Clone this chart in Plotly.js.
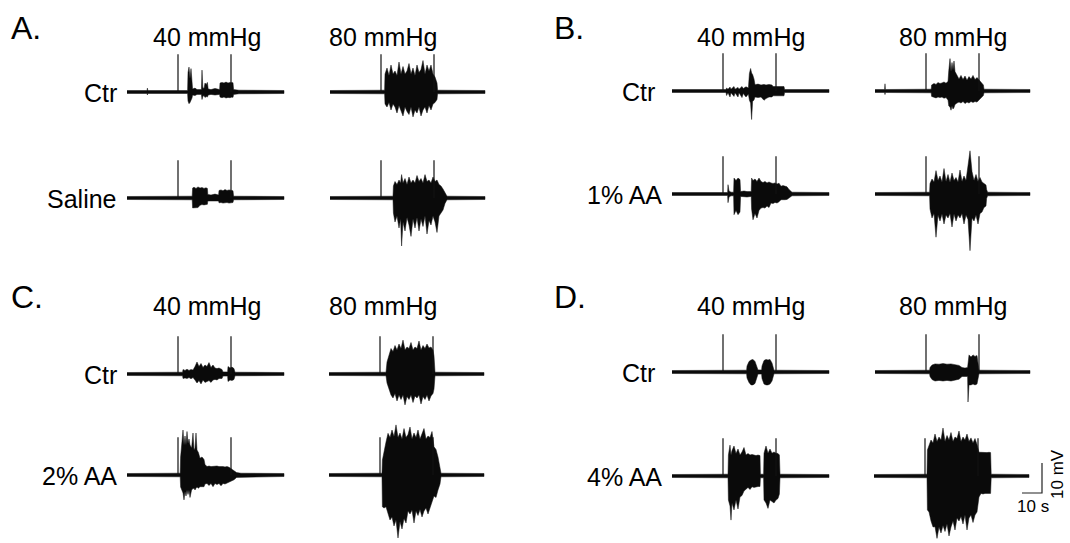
<!DOCTYPE html>
<html><head><meta charset="utf-8">
<script src="https://cdn.plot.ly/plotly-3.0.1.min.js"></script>
<style>html,body{margin:0;padding:0;background:#fff}#chart{width:1070px;height:543px}</style>
</head><body><div id="chart"></div>
<script>
// ---- DATA: each row = [time (s), upper envelope (mV), lower envelope (mV)] ----
const A_ctr_40 = [[0,0.5,-0.5],[10,0.5,-0.5],[10.2,1.3,-1],[10.4,0.5,-0.5],[30.3,0.5,-0.5],[30.5,6.5,-3],[31,8.3,-3.9],[31.5,4.5,-3.5],[32,7.8,-3.2],[32.5,3,-2],[32.8,1,-1],[34,1.3,-1.2],[35,0.8,-0.8],[37.2,0.8,-0.8],[37.5,7.3,-2.5],[37.9,1.5,-1.5],[38.5,1.2,-1.2],[39,3,-1.8],[39.6,2.5,-1.5],[40.2,3.2,-1.7],[40.6,1,-1],[42,0.8,-0.8],[44,1.2,-1],[46.3,0.8,-0.8],[46.5,3,-1.7],[47.5,3.2,-1.9],[48.5,3,-1.7],[49.5,3.3,-2],[50.5,3,-1.8],[51.5,3.2,-1.9],[52.5,3,-1.7],[53,3.1,-1.8],[53.3,0.8,-0.8],[56,0.6,-0.6],[78.5,0.5,-0.5]];
const A_ctr_80 = [[0,0.5,-0.5],[27.3,0.6,-0.6],[27.5,6,-4],[28.5,8,-5],[29.5,5.5,-3.5],[30.5,9,-6],[31.5,6,-4],[32.5,7,-5],[33.5,5.5,-7],[34.5,10,-4.5],[35.5,6,-6],[36.5,8.5,-8],[37.5,6,-5],[38.5,7,-6.5],[39.5,9.5,-7.5],[40.5,6,-5],[41.5,8,-8.3],[42.5,5.5,-6],[43.5,9,-7],[44.5,6.5,-5],[45.5,7.5,-8],[46.5,10.5,-6],[47.5,6,-5],[48.5,9,-7],[49.5,7,-4.5],[50.5,9,-6],[51.5,6,-4],[52.5,5,-3.5],[53.5,3,-2.5],[53.8,0.6,-0.6],[77.5,0.5,-0.5]];
const A_sal_40 = [[0,0.5,-0.5],[32.6,0.6,-0.6],[32.8,3.3,-3.3],[33.5,3.6,-3.4],[34.5,3.2,-3.3],[35.5,3.7,-3.2],[36.5,3.3,-2.4],[37.5,3.5,-2.2],[38.5,3.2,-2.3],[39.5,3.4,-2.2],[40.2,3.2,-2.1],[40.4,1.2,-1],[42,1,-1.2],[44,1.3,-1],[45.8,1,-1],[46,2.5,-1.6],[47,2.7,-1.5],[48,2.4,-1.7],[49,2.8,-1.6],[50,2.5,-1.5],[51,2.7,-1.7],[52,2.5,-1.6],[53,2.4,-1.5],[53.3,0.6,-0.6],[78.5,0.5,-0.5]];
const A_sal_80 = [[0,0.5,-0.5],[31.5,0.6,-0.6],[31.7,4,-5],[32.5,5.5,-8],[33.5,4.5,-6],[34.5,6,-10],[35.3,5,-7],[35.8,7.8,-16],[36.5,5,-8],[37.5,6.5,-11],[38.5,4.5,-6.5],[39.5,7,-9],[40.5,5,-12.8],[41.5,6,-7],[42.5,5,-10],[43.5,7.5,-6.5],[44.5,5.5,-11],[45.5,6.5,-7],[46.5,5,-9.5],[47.5,7.8,-6],[48.5,5.5,-12],[49.5,6,-7.5],[50.5,5,-9],[51.5,7,-6],[52.5,5.5,-8],[53.5,6,-11.5],[54.5,4.5,-6],[55.5,4,-5],[56.5,3,-4],[57.5,1.5,-1.8],[58.5,0.6,-0.6],[77.5,0.5,-0.5]];
const B_ctr_40 = [[0,0.5,-0.5],[27,0.5,-0.5],[27.3,1,-1.5],[28,0.6,-0.6],[29,1.3,-2],[29.5,0.6,-0.6],[31,1.5,-1.8],[31.5,0.6,-0.6],[33,1.2,-2],[33.5,0.6,-0.6],[35,1.5,-2.2],[35.6,0.8,-0.8],[37,1.4,-2],[38.2,1,-1],[38.7,5.8,-3.1],[39.3,7.5,-4],[39.8,6,-9.5],[40.3,5.5,-3.5],[41,4,-3],[41.5,2.1,-2],[43,2.3,-2.2],[44.5,2,-2],[46,2.2,-3.1],[47,2,-2.5],[48.5,2.2,-2],[50,2,-2],[50.5,1.5,-1.6],[52,1.6,-1.7],[54,1.5,-1.6],[56,1.5,-1.6],[56.3,0.5,-0.5],[78.5,0.5,-0.5]];
const B_ctr_80 = [[0,0.5,-0.5],[4.8,0.5,-0.5],[5,2.4,-1.2],[5.2,0.5,-0.5],[28.1,0.6,-0.6],[28.3,2,-1.8],[29.5,2.5,-2],[30.5,2.2,-2.3],[31.5,2.8,-2],[32.5,2.5,-2.2],[33.5,2.7,-2],[34.5,3,-2.4],[35.5,2.6,-2.2],[36.5,3.2,-3],[36.9,6.9,-5],[37.5,10.8,-5.3],[38,6.5,-6.4],[38.5,9.5,-5],[39,7,-6],[39.5,10,-5.5],[40,6.5,-4.5],[41,5,-4],[42,4,-3.7],[43,5.2,-4],[44,3.8,-3.5],[45,5,-4.2],[46,3.6,-3.7],[47,4.8,-4],[48,4,-3.5],[49,5.2,-3.8],[50,3.8,-3.5],[51,4.5,-3.7],[52,3.6,-3],[53,3,-2.5],[54.2,2,-1.5],[54.5,0.6,-0.6],[77.5,0.5,-0.5]];
const B_aa1_40 = [[0,0.5,-0.5],[27.8,0.5,-0.5],[28,3.1,-2.9],[28.5,1,-1],[29.5,0.6,-0.6],[30.8,0.6,-0.6],[31,5.3,-6.9],[32,4.5,-5.5],[33,5.3,-6.9],[34,4.8,-6],[34.3,0.8,-0.8],[36,1,-1],[37.5,0.8,-1],[39.6,0.8,-0.8],[39.8,5.3,-5],[40.5,4.5,-8.6],[41.5,5,-6.5],[42.5,4.2,-8],[43.5,5.3,-5.5],[44.5,4.2,-4.7],[45.5,3.8,-4.5],[46.5,4.2,-4.7],[47.5,3.7,-4],[48.5,4,-4.5],[49.5,3.7,-3],[50.5,3.5,-3.2],[51.5,3.7,-2.8],[52.5,3.3,-3],[53.5,3.6,-2.6],[54.5,2.6,-1.9],[55.5,2.8,-2],[56.5,2.6,-1.9],[57.5,2.4,-1.8],[58.5,1.5,-1.2],[60,0.6,-0.6],[78.5,0.5,-0.5]];
const B_aa1_80 = [[0,0.5,-0.5],[27.3,0.6,-0.6],[27.5,3.5,-5],[28.5,5,-8],[29.5,4,-6.5],[30.5,7.8,-14.4],[31.5,4.5,-7],[32.5,6,-9],[33.5,4,-6.7],[34.5,8.5,-10],[35.5,4.2,-7],[36.5,6.5,-8],[37.5,3.9,-6.5],[38.5,7,-11],[39.5,4.5,-6.7],[40.5,5.5,-9],[41.5,4,-7],[42.5,8,-8],[43.5,4.2,-6.5],[44.5,6,-10],[45.5,4.5,-7],[46.5,10,-8.5],[47.5,14.4,-18.9],[48.5,7.5,-8],[49.5,4.5,-9],[50.5,6.5,-7],[51.5,4.2,-10],[52.5,5.5,-6.5],[53.5,4,-6],[54.5,3.5,-4.5],[55.5,3,-4],[55.8,1.5,-1.5],[56.3,0.6,-0.6],[77.5,0.5,-0.5]];
const C_ctr_40 = [[0,0.5,-0.5],[27.8,0.6,-0.6],[28,1.5,-1.5],[29,1.2,-1.3],[30,1.6,-1.5],[31,1.2,-1.2],[32,1.5,-1.6],[33,1.3,-1.2],[34,2.5,-2],[35,4,-3],[36,2.5,-2.2],[37,3.5,-3.3],[38,2.2,-2],[39,3,-2.8],[40,2.5,-2.5],[41,3.8,-2.2],[42,2.2,-2.8],[43,3,-2],[44,2,-1.8],[45,1.8,-2],[46,2,-1.5],[47.5,1.5,-1.5],[48,0.7,-0.7],[50.3,0.7,-0.7],[50.5,2.5,-2.5],[51.5,2,-2],[52.5,2.3,-2.2],[53.5,1.8,-1.8],[54,0.6,-0.6],[78.5,0.5,-0.5]];
const C_ctr_80 = [[0,0.5,-0.5],[28.5,0.6,-0.6],[29,4,-3],[30,6.5,-5],[31,8.5,-7],[32,7.5,-8],[33,9.5,-6.5],[34,8,-9],[35,10,-7],[36,8.5,-8.5],[37,11.3,-7],[38,8,-10.3],[39,9,-7.5],[40,8.5,-8.5],[41,10.5,-7],[42,8,-9.5],[43,9,-7.3],[44,8.5,-8],[45,11,-7],[46,8,-10],[47,9.5,-7.5],[48,8.5,-8.5],[49,10,-7],[50,8.7,-9],[51,9,-7.3],[52,8,-6.5],[52.5,6,-5],[53,0.6,-0.6],[77.5,0.5,-0.5]];
const C_aa2_40 = [[0,0.5,-0.5],[26.6,0.6,-0.6],[26.8,6,-4],[27.5,10,-5],[28,15,-6],[28.5,10,-8.3],[29,13,-5.5],[29.5,10,-7],[30,14.5,-5],[30.5,10.5,-6.5],[31,12,-5],[31.5,10,-7.5],[32.3,9,-5],[33,14,-4.5],[33.5,8.3,-4.4],[34,9,-5],[34.5,14,-4.4],[35,8.3,-4],[35.7,7.5,-4.4],[36.5,5.6,-3.9],[37.5,6,-4],[38.5,5.2,-3.9],[39,3.5,-3],[40,2.8,-2.8],[41,3,-3.5],[42,2.8,-2.8],[43,2.9,-3.9],[44,2.8,-2.8],[45,3,-3.2],[46,2.8,-2.8],[47,2.9,-3.6],[48,2.8,-2.8],[49,2.7,-3],[50,2.8,-2.8],[51,2.6,-2.6],[51.5,2.4,-2.4],[52.5,1.9,-1.9],[53.5,1.6,-1.6],[54.8,0.8,-0.8],[57,0.6,-0.6],[78.5,0.5,-0.5]];
const C_aa2_80 = [[0,0.5,-0.5],[26.5,0.6,-0.6],[26.7,5,-10.6],[27.5,8,-11],[28.5,11,-10.6],[29.5,13.9,-13],[30.5,12.5,-15],[31.5,15,-14],[32.5,12.8,-17],[33.5,16.7,-15],[34.5,12.5,-21],[35.5,14,-15.5],[36.5,12,-18],[37.5,15.5,-14.5],[38.5,12.5,-16],[39.5,13.5,-12],[40.5,16,-13],[41.5,12,-11.7],[42.5,14,-16],[43.5,12.5,-12],[44.5,15,-13.5],[45.5,12,-11.5],[46.5,13.5,-14],[47.5,15.5,-12],[48.5,12,-11],[49.5,13,-13],[50.5,12.5,-10.5],[51.5,14.5,-9],[52.5,9.4,-7],[53.5,8.5,-7.5],[54.5,6,-5],[55.5,3,-3],[56,0.6,-0.6],[77.5,0.5,-0.5]];
const D_ctr_40 = [[0,0.5,-0.5],[37.3,0.6,-0.6],[37.5,2,-2],[38.5,3.5,-3.5],[39.5,4,-4.3],[40.5,4.2,-4.3],[41.5,3.5,-3.8],[42.5,2,-2],[43,0.7,-0.7],[44.8,0.7,-0.7],[45,2,-2.2],[46,3.8,-4],[47,4.2,-4.3],[48,4,-4.3],[49,4.2,-4],[50,3,-3],[50.5,1.5,-1.5],[51,0.6,-0.6],[78.5,0.5,-0.5]];
const D_ctr_80 = [[0,0.5,-0.5],[27.3,0.6,-0.6],[27.5,1.5,-1.5],[28.5,2.3,-2.5],[30,2.7,-3],[32,2.6,-2.8],[34,2.8,-3],[36,2.6,-2.8],[38,2.7,-3],[40,2.5,-2.8],[42,2.2,-2.4],[43.5,1.5,-1.5],[45,1.3,-1.5],[46.3,1.5,-1.5],[46.5,4,-10],[47,5.7,-4.3],[48,5,-4.3],[49,5.7,-4],[50,5.2,-4.3],[51,5.5,-4],[51.5,3,-2],[52,0.6,-0.6],[77.5,0.5,-0.5]];
const D_aa4_40 = [[0,0.5,-0.5],[28,0.6,-0.6],[28.2,7,-8],[29,10.3,-10],[29.5,7,-14.7],[30,8.5,-9],[31,10,-11.3],[32,7.5,-8],[33,9,-11],[34,7,-7],[35,8,-6.5],[36,9.5,-5],[37,7,-4.5],[38,7.5,-3.8],[39,7,-4.5],[40,7.2,-3.6],[41,7,-3.8],[42,6.8,-3.6],[43,7,-3.5],[44,6.8,-3.5],[44.2,0.6,-0.6],[45.8,0.6,-0.6],[46,7.6,-8],[47,10,-9],[48,7.6,-10.8],[49,9,-8],[50,7.6,-8.5],[51,8,-9],[52,7.6,-8],[53,7.5,-7.5],[53.7,7,-6],[54,0.6,-0.6],[78.5,0.5,-0.5]];
const D_aa4_80 = [[0,0.5,-0.5],[26.5,0.6,-0.6],[26.7,8.7,-11.3],[27.5,10,-12],[28.5,12,-15],[29.5,11,-17],[30.5,14,-16.9],[31.5,11.5,-20.8],[32.5,13,-17],[33.5,12,-19],[34.5,16,-16.5],[35.5,11.5,-18.5],[36.5,13.5,-16],[37.5,12,-20],[38.5,14.5,-17],[39.5,11.5,-15],[40.5,13,-18],[41.5,12.5,-14],[42.5,15,-15],[43.5,11.5,-13.5],[44.5,13,-16],[45.5,12,-13],[46.5,14,-18],[47.5,11.5,-14],[48.5,12.7,-13],[49.5,11,-15.5],[50.5,12.5,-13],[51.5,10.5,-12],[52.5,7.9,-7],[53.5,7.9,-5.8],[54.5,7.8,-6],[55.5,7.9,-5.8],[56.5,7.8,-5.8],[57.5,7.9,-5.9],[58.3,7.8,-5.8],[58.6,0.6,-0.6],[77.5,0.5,-0.5]];

const stimTimes = [25.5, 52];     // s, pressure-step markers
const stimHeight = 12.6;          // mV
const scaleBarSeconds = 10;
const scaleBarMV = 10;
const pressureLabels = ["40 mmHg", "80 mmHg"];
const panelLetters = ["A.", "B.", "C.", "D."];
const rowLabels = [["Ctr", "Saline"], ["Ctr", "1% AA"], ["Ctr", "2% AA"], ["Ctr", "4% AA"]];

// ---- LAYOUT (pixel placement of each recording) ----
const W = 1070, H = 543, PX_PER_S = 2, PX_PER_MV = 3;
const recs = [
  {d:A_ctr_40, x0:127, b:92}, {d:A_ctr_80, x0:330, b:92},
  {d:A_sal_40, x0:127, b:198}, {d:A_sal_80, x0:330, b:198},
  {d:B_ctr_40, x0:672, b:91}, {d:B_ctr_80, x0:875, b:91},
  {d:B_aa1_40, x0:672, b:194}, {d:B_aa1_80, x0:875, b:194},
  {d:C_ctr_40, x0:127, b:374}, {d:C_ctr_80, x0:329, b:374},
  {d:C_aa2_40, x0:127, b:475}, {d:C_aa2_80, x0:329, b:475},
  {d:D_ctr_40, x0:672, b:372}, {d:D_ctr_80, x0:875, b:372},
  {d:D_aa4_40, x0:672, b:476}, {d:D_aa4_80, x0:874, b:476}
];
const panelPos = [{x:9, y:28, lx40:207, lx80:383, rl:119}, {x:552, y:28, lx40:751, lx80:953, rl:662},
                  {x:9, y:297, lx40:207, lx80:383, rl:119}, {x:552, y:297, lx40:751, lx80:953, rl:662}];

const data = [], layout = {
  width: W, height: H, margin: {l:0, r:0, t:0, b:0},
  paper_bgcolor: '#fff', plot_bgcolor: 'rgba(0,0,0,0)', showlegend: false, annotations: []
};
recs.forEach((r, i) => {
  const n = i + 1, sfx = n === 1 ? '' : String(n);
  const left = r.x0 - 6, right = Math.min(r.x0 + 176, W);
  const top = r.b - 62, bottom = Math.min(r.b + 72, H);
  layout['xaxis' + sfx] = {domain: [left / W, right / W], range: [-6 / PX_PER_S, (right - r.x0) / PX_PER_S],
    visible: false, fixedrange: true, anchor: 'y' + sfx};
  layout['yaxis' + sfx] = {domain: [1 - bottom / H, 1 - top / H], range: [-(bottom - r.b) / PX_PER_MV, (r.b - top) / PX_PER_MV],
    visible: false, fixedrange: true, anchor: 'x' + sfx};
  const t = r.d.map(p => p[0]), up = r.d.map(p => p[1]), lo = r.d.map(p => p[2]);
  data.push({type: 'scatter', mode: 'lines', x: t.concat(t.slice().reverse()), y: up.concat(lo.slice().reverse()),
    fill: 'toself', fillcolor: '#0a0a0a', line: {color: '#111', width: 0.5}, hoverinfo: 'skip',
    xaxis: 'x' + sfx, yaxis: 'y' + sfx});
  const sx = [], sy = [];
  stimTimes.forEach(s => { sx.push(s, s, null); sy.push(0, stimHeight, null); });
  data.push({type: 'scatter', mode: 'lines', x: sx, y: sy, line: {color: '#111', width: 1.2}, hoverinfo: 'skip',
    xaxis: 'x' + sfx, yaxis: 'y' + sfx});
  if (i === recs.length - 1) {
    const t0 = (1022 - r.x0) / PX_PER_S, v0 = (r.b - 493) / PX_PER_MV;
    data.push({type: 'scatter', mode: 'lines', x: [t0, t0 + scaleBarSeconds, t0 + scaleBarSeconds],
      y: [v0, v0, v0 + scaleBarMV], line: {color: '#222', width: 1.2}, hoverinfo: 'skip',
      xaxis: 'x' + sfx, yaxis: 'y' + sfx});
  }
});

const FONT = 'Liberation Sans, Arial, sans-serif';
function ann(text, px, py, size, xanchor, angle) {
  layout.annotations.push({text, x: px / W, y: 1 - py / H, xref: 'paper', yref: 'paper', showarrow: false,
    xanchor: xanchor || 'center', yanchor: 'middle', textangle: angle || 0,
    font: {family: FONT, size, color: '#000'}});
}
panelPos.forEach((p, k) => {
  ann(panelLetters[k], p.x, p.y, 32, 'left');
  ann(pressureLabels[0], p.lx40, p.y + 9, 25);
  ann(pressureLabels[1], p.lx80, p.y + 9, 25);
  ann(rowLabels[k][0], p.rl - (k % 2 ? 5 : 0), recs[k * 4].b + 1, 25, 'right');
  ann(rowLabels[k][1], p.rl + (k % 2 ? 2 : 0), recs[k * 4 + 2].b + 1, 25, 'right');
});
ann(scaleBarSeconds + ' s', 1033, 507, 17);
ann(scaleBarMV + ' mV', 1057, 474, 17, 'center', -90);

Plotly.newPlot('chart', data, layout, {staticPlot: true, displayModeBar: false});
</script></body></html>
